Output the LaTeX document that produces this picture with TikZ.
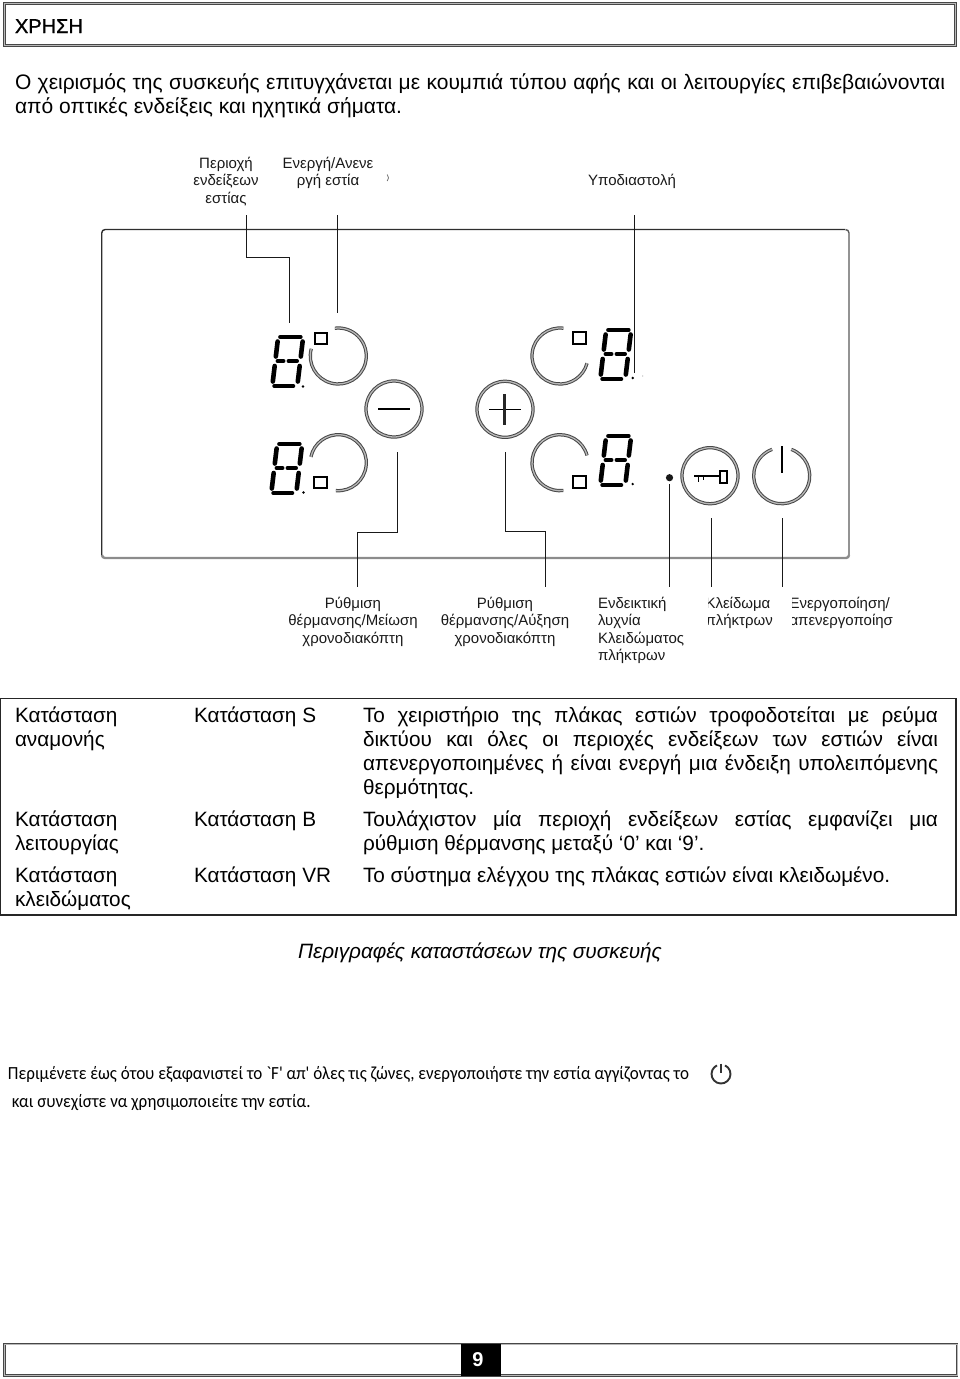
\documentclass[tikz,border=0pt]{standalone}
\usepackage{fontspec}
\setmainfont{Liberation Sans}
\newfontfamily\calfont{Carlito}
\newcommand{\jl}[2]{\makebox[#1pt][s]{#2}}
\tikzset{
  every node/.style={inner sep=0pt,outer sep=0pt},
  body/.style={font=\fontsize{20.75}{24}\selectfont,align=left,anchor=north west,text=black},
  lbl/.style={font=\fontsize{15}{17.5}\selectfont,anchor=north,align=center,text=black!90},
  lbll/.style={font=\fontsize{15}{17.5}\selectfont,anchor=north west,align=left,text=black!90},
  leader/.style={draw=black!90,line width=1.2pt},
  ringline/.style={draw=black!72,double=black!28,line width=1pt,double distance=1.3pt},
  segline/.style={draw=black,line width=4pt,line cap=round},
  framebox/.style={draw=black!72,double=black!28,line width=.8pt,double distance=.9pt},
  notetext/.style={anchor=base west,font=\calfont\fontsize{18.5}{20}\selectfont,text=black,xscale=.92,transform shape}
}
\newcommand{\sevenseg}[2]{%
  \begin{scope}[cm={1,0,0.12,1,(#1+6.4,#2)}]
    \draw[segline] (4,2)--(24.5,2) (4,51)--(23,51);
    \draw[segline,line width=3.4pt] (4,26)--(10.5,26) (15,26)--(24,26);
    \draw[segline,line width=4.6pt] (2,6.5)--(2,21.5) (2,31)--(2,46.5) (27,6.5)--(27,21.5) (27,31)--(27,46.5);
  \end{scope}}
\newcommand{\ringarc}[4]{\draw[ringline] (#1,#2) ++(#3:28pt) arc[start angle=#3,end angle=#4,radius=28pt];}
\newcommand{\ringfull}[2]{\draw[ringline] (#1,#2) circle[radius=28pt];}
\begin{document}
\begin{tikzpicture}[x=1pt,y=-1pt]
\useasboundingbox (0,0) rectangle (960,1379);
% header
\draw[framebox] (4.5,3.5) rectangle (955.5,45.5);
\node[anchor=base west,font=\fontsize{20}{24}\selectfont\addfontfeature{FakeBold=1.2},text=black] (title) at (15,33) {ΧΡΗΣΗ};
\node[body,font=\fontsize{21}{23.5}\selectfont] (intro) at (15,73.5) {\strut\jl{930}{Ο χειρισμός της συσκευής επιτυγχάνεται με κουμπιά τύπου αφής και οι λειτουργίες επιβεβαιώνονται}\\από οπτικές ενδείξεις και ηχητικά σήματα.};
% top labels
\node[lbl] (lzone) at (226,155.8) {\strut Περιοχή\\ενδείξεων\\εστίας};
\node[lbl] (lact) at (328,155.8) {\strut Ενεργή/Ανενε\\ργή εστία};
\node[lbl] (ldec) at (632,172.8) {\strut Υποδιαστολή};
\draw[black!55,line width=.8pt] (387.2,174.5) .. controls (389,177) and (389,179) .. (387.2,181);
% panel
\draw[black!82,line width=1.4pt] (101.7,556) -- (101.7,233) arc[start angle=180,end angle=90,radius=3.5pt] -- (845,229.5);
\draw[black!65,line width=1.4pt] (845.5,229.5) arc[start angle=90,end angle=0,radius=3.5pt] -- (849,555);
\draw[black!45,line width=2.4pt] (849,555) arc[start angle=0,end angle=-90,radius=3pt] -- (105,558) arc[start angle=270,end angle=180,radius=3pt];
% coordinates
\coordinate (a1) at (246.5,215); \coordinate (a2) at (246.5,257.5); \coordinate (a3) at (289.5,257.5); \coordinate (a4) at (289.5,323);
\coordinate (b1) at (337.5,215); \coordinate (b2) at (337.5,313);
\coordinate (c1) at (634.5,215); \coordinate (c2) at (634.5,372.7);
\coordinate (d1) at (397.5,452); \coordinate (d2) at (397.5,532.5); \coordinate (d3) at (357.5,532.5); \coordinate (d4) at (357.5,586.7);
\coordinate (e1) at (505.5,452); \coordinate (e2) at (505.5,531.5); \coordinate (e3) at (545.5,531.5); \coordinate (e4) at (545.5,586.7);
\coordinate (f1) at (669.5,484); \coordinate (f2) at (669.5,586.7);
\coordinate (g1) at (711.5,518.3); \coordinate (g2) at (711.5,586.7);
\coordinate (h1) at (782.5,518.3); \coordinate (h2) at (782.5,586.7);
\draw[leader] (a1)--(a2)--(a3)--(a4);
\draw[leader] (b1)--(b2);
\draw[leader] (c1)--(c2);
\draw[leader] (d1)--(d2)--(d3)--(d4);
\draw[leader] (e1)--(e2)--(e3)--(e4);
\draw[leader] (f1)--(f2);
\draw[leader] (g1)--(g2);
\draw[leader] (h1)--(h2);
% digits
\sevenseg{270}{335}
\sevenseg{269}{442}
\sevenseg{598}{328}
\sevenseg{598}{434}
\fill (303,386.5) circle[radius=1.3pt];
\fill (303.5,492.5) circle[radius=1.3pt];
\fill (632.7,378) circle[radius=1.3pt];
\fill (632.7,484) circle[radius=1.3pt];
\fill[black!35] (642.7,376) circle[radius=.6pt];
% rings
\ringarc{338.3}{356}{-195}{97}
\ringarc{338.3}{462.7}{-95}{168}
\ringarc{560}{356}{83}{345}
\ringarc{560}{462.7}{15}{277}
\ringfull{394}{409}
\ringfull{505}{409.3}
\ringfull{710}{475.7}
\ringarc{781.7}{475.7}{70}{-250}
% squares
\draw[black,line width=2pt] (314.5,332.5) rectangle (326.5,343.5);
\draw[black,line width=2pt] (314,476.5) rectangle (326.5,487.5);
\draw[black,line width=2pt] (572.5,331.5) rectangle (585.5,343.5);
\draw[black,line width=2pt] (572.5,475.5) rectangle (585.5,487.5);
% minus / plus
\draw[black,line width=2pt] (378,409)--(410,409);
\draw[black,line width=1.5pt] (489,409.3)--(520.7,409.3);
\draw[black!85,line width=2.8pt] (504.8,394)--(504.8,425);
% key
\draw[black,line width=1.8pt] (694,475.7)--(720,475.7);
\draw[black,line width=2pt] (720,470.5) rectangle (726.5,482.5);
\draw[black,line width=1.5pt] (698.5,476)--(698.5,482) (703.5,476)--(703.5,479.5);
% power line
\draw[black,line width=1.8pt] (781.7,446)--(781.7,472.7);
% lamp
\fill[black!90] (669.5,477.7) circle[radius=3.6pt];
% bottom labels
\node[lbl] (lminus) at (353,595.8) {\strut Ρύθμιση\\θέρμανσης/Μείωση\\χρονοδιακόπτη};
\node[lbl] (lplus) at (505,595.8) {\strut Ρύθμιση\\θέρμανσης/Αύξηση\\χρονοδιακόπτη};
\node[lbll] (llamp) at (598,595.8) {\strut Ενδεικτική\\λυχνία\\Κλειδώματος\\πλήκτρων};
\begin{scope}
\clip (708.5,590) rectangle (780,640);
\node[lbll] (lkey) at (705.5,595.8) {\strut Κλείδωμα\\πλήκτρων};
\end{scope}
\begin{scope}
\clip (792.5,590) rectangle (894,640);
\node[lbll] (lpow) at (789.5,595.8) {\strut Ενεργοποίηση/\\απενεργοποίησ};
\end{scope}
% table
\draw[black!85,line width=1.2pt] (.6,698.5) rectangle (956,915);
\node[body] (s1) at (15,705.2) {\strut Κατάσταση\\αναμονής};
\node[body] (s2) at (15,809.2) {\strut Κατάσταση\\λειτουργίας};
\node[body] (s3) at (15,865.2) {\strut Κατάσταση\\κλειδώματος};
\node[body] (m1) at (194,705.2) {\strut Κατάσταση S};
\node[body] (m2) at (194,809.2) {\strut Κατάσταση B};
\node[body] (m3) at (194,865.2) {\strut Κατάσταση VR};
\node[body] (d1t) at (363,705.2) {\strut\jl{575}{Το χειριστήριο της πλάκας εστιών τροφοδοτείται με ρεύμα}\\\jl{575}{δικτύου και όλες οι περιοχές ενδείξεων των εστιών είναι}\\\jl{575}{απενεργοποιημένες ή είναι ενεργή μια ένδειξη υπολειπόμενης}\\θερμότητας.};
\node[body] (d2t) at (363,809.2) {\strut\jl{575}{Τουλάχιστον μία περιοχή ενδείξεων εστίας εμφανίζει μια}\\ρύθμιση θέρμανσης μεταξύ ‘0’ και ‘9’.};
\node[body] (d3t) at (363,865.2) {\strut Το σύστημα ελέγχου της πλάκας εστιών είναι κλειδωμένο.};
\node[font=\fontsize{20.75}{24}\selectfont\itshape,anchor=base,text=black] (cap) at (480,958) {Περιγραφές καταστάσεων της συσκευής};
% note
\node[notetext] (n1) at (8,1079) {Περιμένετε έως ότου εξαφανιστεί το `F' απ' όλες τις ζώνες, ενεργοποιήστε την εστία αγγίζοντας το};
\node[notetext] (n2) at (12,1107) {και συνεχίστε να χρησιμοποιείτε την εστία.};
\draw[black!80,line width=1.9pt] (721,1074) ++(65:9.5pt) arc[start angle=65,end angle=-245,radius=9.5pt];
\draw[black!80,line width=1.9pt] (721,1063.5)--(721,1073);
% footer
\draw[framebox] (4.5,1344) rectangle (957,1375.5);
\fill[black] (461,1344) rectangle (501,1376);
\node[font=\fontsize{20}{24}\selectfont\bfseries,text=white] (pg) at (478,1360) {9};
\end{tikzpicture}
\end{document}
